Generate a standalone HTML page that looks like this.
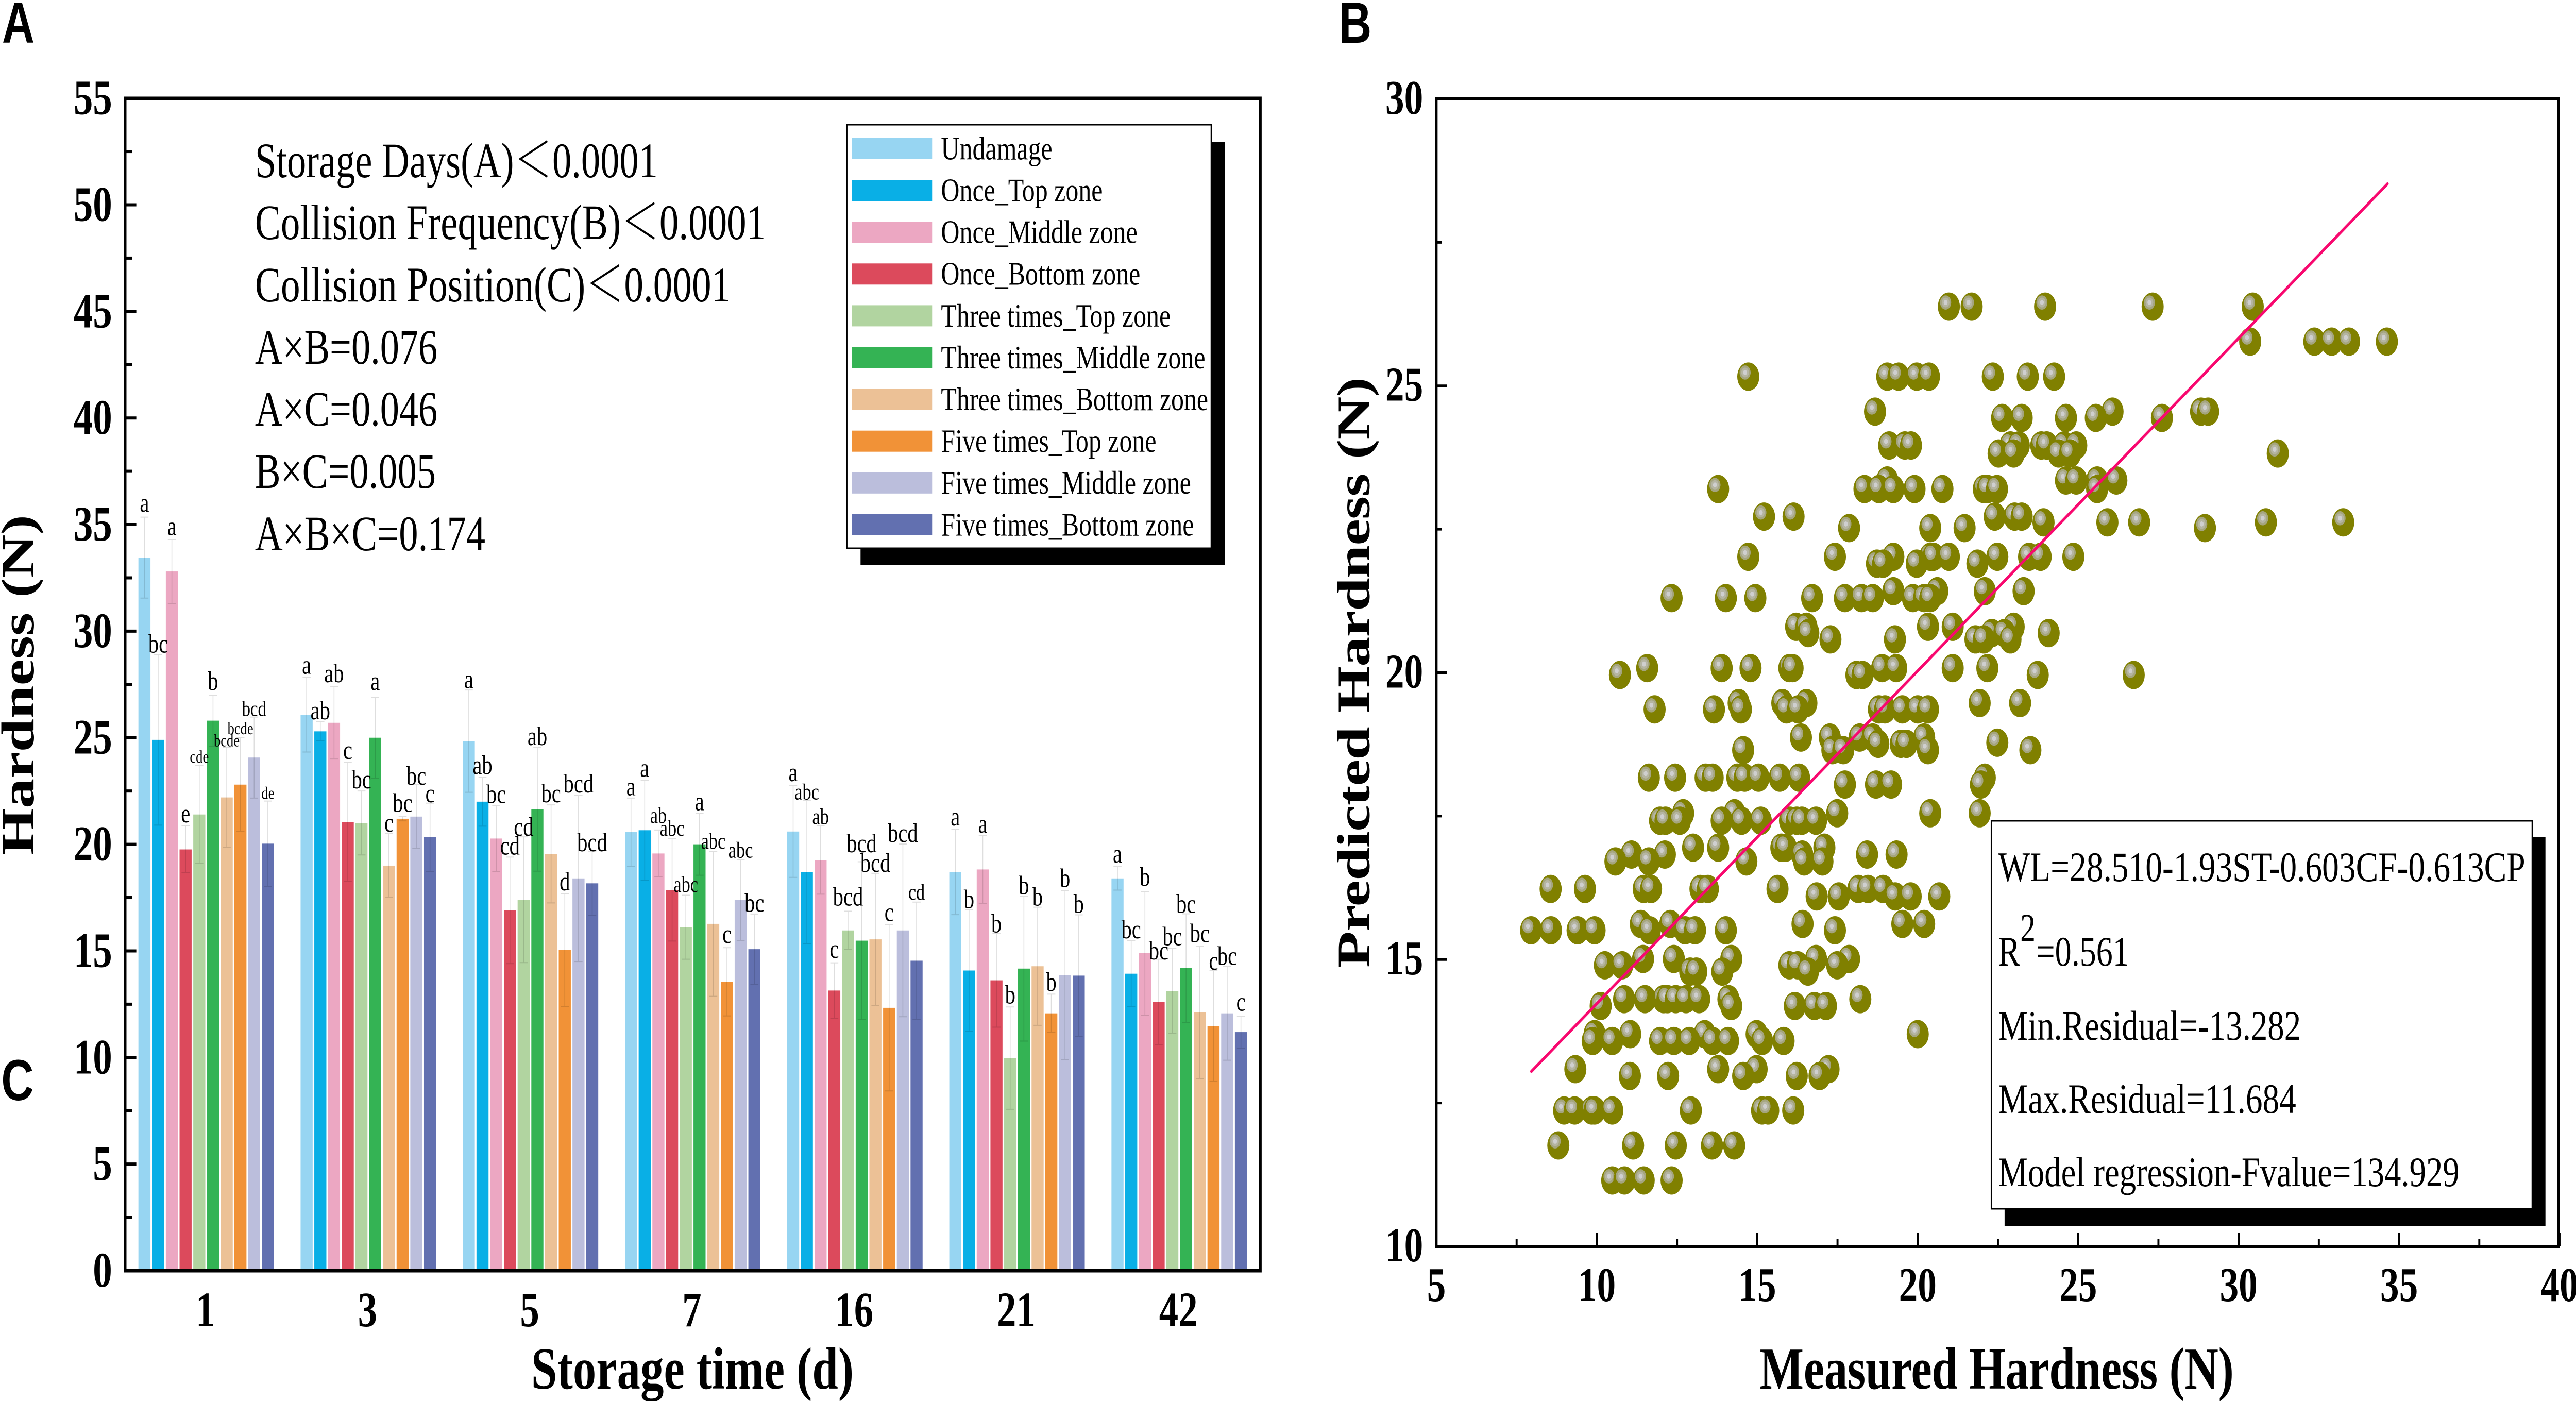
<!DOCTYPE html>
<html lang="en">
<head>
<meta charset="utf-8">
<title>Hardness chart</title>
<style>
html,body{margin:0;padding:0;background:#fff;width:100%;height:100%;overflow:hidden;}
svg{display:block;width:100%;height:100%;}
text{font-family:"Liberation Serif","Noto Serif CJK SC",serif;fill:#000;}
.tick{font-weight:bold;}
.title{font-weight:bold;font-size:116px;}
.panel{font-family:"Liberation Sans",sans-serif;font-weight:bold;font-size:112px;}
.note{font-size:96px;}
.leg{font-size:64px;}
.stat{font-size:82px;}
</style>
</head>
<body>
<svg id="chart" xmlns="http://www.w3.org/2000/svg" viewBox="0 0 6406 2719" preserveAspectRatio="none">
<defs>
<radialGradient id="sphere" cx="0.355" cy="0.355" r="0.2545">
<stop offset="0" stop-color="#CFCFCF"/>
<stop offset="0.33" stop-color="#CFCFCF"/>
<stop offset="0.36" stop-color="#B5B5A2"/>
<stop offset="0.66" stop-color="#B5B5A2"/>
<stop offset="0.69" stop-color="#A5A57E"/>
<stop offset="0.97" stop-color="#A5A57E"/>
<stop offset="1" stop-color="#808000"/>
</radialGradient>
</defs>
<rect x="0" y="0" width="6406" height="2719" fill="#fff"/>

<text class="panel" x="5" y="83">A</text>
<text class="panel" x="3330" y="83">B</text>
<text class="panel" x="3" y="2135">C</text>

<g id="barLayer"></g>
<rect x="311" y="191" width="2823" height="2275" fill="none" stroke="#000" stroke-width="7"/>
<g id="barAxis"></g>

<text class="title" x="1321" y="2695" textLength="802">Storage time (d)</text>
<text class="title" transform="translate(83,1659) rotate(-90)" textLength="660">Hardness (N)</text>

<g>
<text class="note" x="634" y="344" textLength="1002" lengthAdjust="spacingAndGlyphs">Storage Days(A)＜0.0001</text>
<text class="note" x="634" y="464" textLength="1270" lengthAdjust="spacingAndGlyphs">Collision Frequency(B)＜0.0001</text>
<text class="note" x="634" y="585" textLength="1183" lengthAdjust="spacingAndGlyphs">Collision Position(C)＜0.0001</text>
<text class="note" x="634" y="706" textLength="454" lengthAdjust="spacingAndGlyphs">A×B=0.076</text>
<text class="note" x="634" y="826" textLength="454" lengthAdjust="spacingAndGlyphs">A×C=0.046</text>
<text class="note" x="634" y="947" textLength="450" lengthAdjust="spacingAndGlyphs">B×C=0.005</text>
<text class="note" x="634" y="1068" textLength="573" lengthAdjust="spacingAndGlyphs">A×B×C=0.174</text>
</g>

<g id="legend">
<rect x="2140" y="276" width="906" height="821" fill="#000"/>
<rect x="2106" y="242" width="906" height="822" fill="#fff" stroke="#000" stroke-width="3"/>
</g>

<g id="scatterLayer"></g>
<rect x="3572" y="192" width="2790" height="2227" fill="none" stroke="#000" stroke-width="6"/>
<g id="scatterAxis"></g>

<text class="title" x="4376" y="2695" textLength="1179">Measured Hardness (N)</text>
<text class="title" transform="translate(3405,1878) rotate(-90)" textLength="1146">Predicted Hardness (N)</text>

<g>
<rect x="4985" y="1625" width="1345" height="754" fill="#000"/>
<rect x="4952" y="1593" width="1345" height="753" fill="#fff" stroke="#000" stroke-width="3"/>
<text class="stat" x="4969" y="1710" textLength="1311" lengthAdjust="spacingAndGlyphs">WL=28.510-1.93ST-0.603CF-0.613CP</text>
<text class="stat" x="4969" y="1874">R</text>
<text class="stat" x="5024" y="1826" style="font-size:76px">2</text>
<text class="stat" x="5064" y="1874" textLength="231" lengthAdjust="spacingAndGlyphs">=0.561</text>
<text class="stat" x="4969" y="2018" textLength="753" lengthAdjust="spacingAndGlyphs">Min.Residual=-13.282</text>
<text class="stat" x="4969" y="2160" textLength="741" lengthAdjust="spacingAndGlyphs">Max.Residual=11.684</text>
<text class="stat" x="4969" y="2302" textLength="1147" lengthAdjust="spacingAndGlyphs">Model regression-Fvalue=134.929</text>
</g>
</svg>

<script>
// ---------- Bar chart data ----------
const storageDays = ['1', '3', '5', '7', '16', '21', '42'];
const seriesNames = ['Undamage', 'Once_Top zone', 'Once_Middle zone', 'Once_Bottom zone', 'Three times_Top zone', 'Three times_Middle zone', 'Three times_Bottom zone', 'Five times_Top zone', 'Five times_Middle zone', 'Five times_Bottom zone'];
const hardnessDay1 = [33.45, 24.9, 32.8, 19.76, 21.4, 25.8, 22.2, 22.8, 24.07, 20.03];
const hardnessDay3 = [26.08, 25.3, 25.7, 21.05, 21.0, 25.0, 19.0, 21.2, 21.3, 20.33];
const hardnessDay5 = [24.84, 22.0, 20.27, 16.9, 17.4, 21.64, 19.55, 15.04, 18.4, 18.17];
const hardnessDay7 = [20.57, 20.66, 19.57, 17.86, 16.11, 20.0, 16.27, 13.55, 17.38, 15.08];
const hardnessDay16 = [20.6, 18.7, 19.26, 13.14, 15.96, 15.48, 15.54, 12.33, 15.96, 14.54];
const hardnessDay21 = [18.7, 14.08, 18.82, 13.62, 9.97, 14.17, 14.28, 12.07, 13.86, 13.84];
const hardnessDay42 = [18.4, 13.93, 14.89, 12.61, 13.12, 14.19, 12.11, 11.48, 12.07, 11.19];
const errorDay1 = [1.9, 4.0, 1.5, 1.1, 2.3, 1.2, 2.35, 2.2, 1.9, 2.0];
const errorDay3 = [1.75, 0.45, 1.7, 2.8, 1.5, 1.9, 1.5, 0.1, 1.5, 1.6];
const errorDay5 = [2.4, 1.15, 1.55, 2.5, 2.95, 2.9, 2.3, 2.65, 3.9, 1.5];
const errorDay7 = [1.6, 2.35, 1.1, 2.4, 1.5, 1.45, 3.4, 1.6, 1.9, 1.65];
const errorDay16 = [2.15, 3.35, 1.6, 1.3, 0.9, 3.7, 3.1, 3.9, 4.05, 2.75];
const errorDay21 = [2.0, 2.85, 1.6, 2.2, 2.4, 3.4, 2.77, 0.9, 3.96, 2.85];
const errorDay42 = [0.55, 1.55, 2.9, 2.0, 2.0, 2.55, 3.1, 2.6, 2.2, 0.75];
const lettersDay1 = ['a', 'bc', 'a', 'e', 'cde', 'b', 'bcde', 'bcde', 'bcd', 'de'];
const lettersDay3 = ['a', 'ab', 'ab', 'c', 'bc', 'a', 'c', 'bc', 'bc', 'c'];
const lettersDay5 = ['a', 'ab', 'bc', 'cd', 'cd', 'ab', 'bc', 'd', 'bcd', 'bcd'];
const lettersDay7 = ['a', 'a', 'ab', 'abc', 'abc', 'a', 'abc', 'c', 'abc', 'bc'];
const lettersDay16 = ['a', 'abc', 'ab', 'c', 'bcd', 'bcd', 'bcd', 'c', 'bcd', 'cd'];
const lettersDay21 = ['a', 'b', 'a', 'b', 'b', 'b', 'b', 'b', 'b', 'b'];
const lettersDay42 = ['a', 'bc', 'b', 'bc', 'bc', 'bc', 'bc', 'c', 'bc', 'c'];
const letterLevelDay1 = [35.6, 29.0, 34.5, 21.03, 23.83, 27.24, 24.6, 25.16, 26.02, 22.13];
const letterLevelDay3 = [28.0, 25.86, 27.6, 24.0, 22.63, 27.24, 20.6, 21.53, 22.8, 21.97];
const letterLevelDay5 = [27.33, 23.3, 21.93, 19.52, 20.4, 24.66, 21.97, 17.84, 22.43, 19.68];
const letterLevelDay7 = [22.3, 23.17, 21.0, 20.4, 17.77, 21.6, 19.8, 15.37, 19.37, 16.83];
const letterLevelDay16 = [22.96, 22.1, 20.94, 14.67, 17.12, 19.63, 18.71, 16.4, 20.11, 17.4];
const letterLevelDay21 = [20.88, 17.0, 20.55, 15.87, 12.53, 17.66, 17.12, 13.12, 18.0, 16.79];
const letterLevelDay42 = [19.15, 15.59, 18.06, 14.6, 15.26, 16.79, 15.41, 14.12, 14.34, 12.2];
const barYTicks = ['0', '5', '10', '15', '20', '25', '30', '35', '40', '45', '50', '55'];

// ---------- Scatter data: each predicted level pairs with the measured values at that level ----------
const predictedLevels = [26.38, 25.77, 25.16, 24.55, 24.44, 23.96, 23.82, 23.35, 23.2, 22.72, 22.62, 22.52, 22.02, 21.9, 21.42, 21.3, 20.8, 20.69, 20.58, 20.08, 19.96, 19.47, 19.36, 18.87, 18.78, 18.76, 18.65, 18.17, 18.05, 17.55, 17.42, 16.95, 16.83, 16.71, 16.23, 16.1, 15.62, 15.51, 15.01, 14.9, 14.79, 14.31, 14.19, 13.7, 13.58, 13.09, 12.97, 12.37, 11.76, 11.15];
const measuredAtLevel = [
  [20.97, 21.68, 23.97, 27.32, 30.44],
  [30.36, 32.36, 32.9, 33.44, 34.62],
  [14.72, 19.05, 19.4, 19.97, 20.35, 22.34, 23.43, 24.25],
  [18.67, 26.07, 28.83, 29.05],
  [22.63, 23.24, 24.62, 25.55, 27.61],
  [19.11, 19.6, 19.79, 22.89, 23.15, 23.85, 24.02, 24.56, 24.94],
  [22.52, 22.99, 24.39, 24.75, 31.22],
  [19.05, 24.62, 24.94, 25.59, 26.19],
  [13.78, 18.34, 18.79, 19.24, 19.9, 20.77, 22.06, 22.18, 22.47, 25.59],
  [15.21, 16.13, 22.4, 23.02, 23.24],
  [23.92, 25.91, 26.9, 30.85, 33.26],
  [17.86, 20.39, 21.46, 28.95],
  [14.72, 17.42, 19.24, 20.39, 20.49, 20.97, 22.48, 23.47, 23.83, 24.85],
  [18.73, 18.92, 19.97, 21.86],
  [19.24, 20.61, 22.09, 23.3],
  [12.33, 14.02, 14.94, 16.71, 17.73, 18.25, 18.6, 19.85, 20.2, 20.39],
  [16.21, 16.53, 20.32, 21.09, 22.99],
  [16.59, 22.31, 22.7, 24.08],
  [17.28, 19.29, 21.8, 22.06, 22.89],
  [11.57, 13.89, 14.79, 16.0, 16.1, 18.89, 19.33, 21.09, 22.17],
  [10.72, 18.09, 18.28, 23.74, 26.73],
  [14.42, 15.78, 16.53, 21.93, 23.19],
  [11.8, 13.65, 14.49, 15.91, 16.27, 18.79, 18.98, 19.52, 20.0, 20.32],
  [16.36, 17.26, 18.19, 18.6, 20.2],
  [22.48],
  [18.77, 19.47, 19.65],
  [14.56, 17.34, 17.68, 20.32, 23.51],
  [11.62, 12.44, 13.39, 13.61, 14.38, 14.61, 15.04, 15.7, 16.3, 22.09],
  [17.73, 18.7, 19.17, 21.97],
  [12.69, 14.29, 17.49, 20.39, 21.93],
  [11.97, 12.14, 12.59, 13.89, 14.51, 15.11, 16.02, 16.23, 16.39, 16.83],
  [13.0, 13.78, 15.75, 15.89, 17.09],
  [11.08, 12.12, 16.4, 18.42, 19.34],
  [10.58, 11.62, 14.66, 16.46, 17.03],
  [8.56, 9.63, 11.46, 11.69, 13.23, 13.46, 15.63, 18.15, 18.45, 18.92],
  [16.85, 17.54, 19.3, 19.78, 20.67],
  [11.37, 12.29, 16.41, 19.52, 20.2],
  [7.95, 8.57, 9.4, 9.93, 11.65, 12.75, 13.06, 14.02, 17.42],
  [11.44, 12.4, 14.19, 16.83, 17.86],
  [10.25, 10.79, 16.0, 16.26, 17.49],
  [12.91, 13.1, 13.91, 16.58],
  [10.85, 11.5, 12.08, 12.2, 12.46, 12.78, 13.19, 14.1, 18.21],
  [10.12, 14.19, 16.17, 16.78, 17.14],
  [9.93, 11.04, 13.36, 14.98, 20.0],
  [9.87, 10.48, 11.97, 12.4, 12.88, 13.61, 14.09, 15.15, 15.82],
  [9.33, 13.78, 14.98, 17.22],
  [11.03, 12.22, 14.56, 16.23, 16.94],
  [8.98, 9.31, 9.84, 9.93, 10.48, 12.93, 15.15, 15.34, 16.12],
  [8.8, 11.13, 12.46, 13.59, 14.28],
  [10.48, 10.86, 11.46, 12.33]
];
const fitMeasured = [7.96, 34.64];
const fitPredicted = [13.05, 28.52];
const scatterXTicks = ['5', '10', '15', '20', '25', '30', '35', '40'];
const scatterYTicks = ['10', '15', '20', '25', '30'];

// ---------- Rendering ----------
const hardnessByDay = [hardnessDay1, hardnessDay3, hardnessDay5, hardnessDay7, hardnessDay16, hardnessDay21, hardnessDay42];
const errorByDay = [errorDay1, errorDay3, errorDay5, errorDay7, errorDay16, errorDay21, errorDay42];
const lettersByDay = [lettersDay1, lettersDay3, lettersDay5, lettersDay7, lettersDay16, lettersDay21, lettersDay42];
const levelByDay = [letterLevelDay1, letterLevelDay3, letterLevelDay5, letterLevelDay7, letterLevelDay16, letterLevelDay21, letterLevelDay42];

const seriesColor = i => ['#97D5F2', '#09AFE6', '#ECA7C2', '#DC4A5C', '#B1D4A0', '#34B354', '#ECC196', '#F19237', '#BBBEDC', '#6270B0'][i];
const NS = 'http://www.w3.org/2000/svg';
function make(tag, parent, attrs, txt) {
  const el = document.createElementNS(NS, tag);
  for (const k in attrs) el.setAttribute(k, attrs[k]);
  if (txt !== undefined) el.textContent = txt;
  parent.appendChild(el);
  return el;
}
const barY = v => 2466 - v * 41.37;
const groupX = i => 311 + 403.3 * (i + 0.5);
const barPitch = 34.1;
const barWidth = 30;
const barCenter = (g, s) => groupX(g) + (s - 4.5) * barPitch;
const letterSize = (g, s) => {
  const t = lettersByDay[g][s];
  if (g === 0 && (t === 'cde' || t === 'bcde' || t === 'de')) return 34;
  if (g === 0 && t === 'bcd') return 42;
  if (g === 3 && (t === 'ab' || t === 'abc')) return 44;
  if (g === 4 && (t === 'ab' || t === 'abc' || t === 'cd')) return 44;
  return 52;
};

const barLayer = document.getElementById('barLayer');
const barAxis = document.getElementById('barAxis');

hardnessByDay.forEach((vals, g) => {
  vals.forEach((v, s) => {
    const cx = barCenter(g, s);
    const bar = make('rect', barLayer, { x: cx - barWidth / 2, y: barY(v), width: barWidth, height: barY(0) - barY(v), fill: seriesColor(s) });
    
    
  });
});
hardnessByDay.forEach((vals, g) => {
  vals.forEach((v, s) => {
    const cx = barCenter(g, s);
    const e = errorByDay[g][s];
    const up = barY(v + e);
    const dn = barY(v - e);
    const err = make('path', barLayer, { d: `M${cx} ${up}V${dn}M${cx - 10} ${up}H${cx + 10}M${cx - 10} ${dn}H${cx + 10}`, fill: 'none', stroke: 'rgba(0,0,0,0.13)', 'stroke-width': 2 });
    
    
    const lab = make('text', barLayer, { x: cx, y: barY(levelByDay[g][s]), 'text-anchor': 'middle', 'font-size': letterSize(g, s) }, lettersByDay[g][s]);
    
    
  });
});
storageDays.forEach((d, i) => {
  const t = make('text', barAxis, { class: 'tick', x: groupX(i) - 2, y: 2574, 'text-anchor': 'middle', 'font-size': 96 }, d);
  
  
});
barYTicks.forEach((lab, i) => {
  const v = Number(lab);
  const y = barY(v);
  const tk = make('line', barAxis, { x1: 311, x2: 339, y1: y, y2: y, stroke: '#000', 'stroke-width': 6 });
  
  
  const t = make('text', barAxis, { class: 'tick', x: 279, y: y + 31, 'text-anchor': 'end', 'font-size': 96 }, lab);
  
  
  if (i < barYTicks.length - 1) {
    const my = barY(v + 2.5);
    const mn = make('line', barAxis, { x1: 311, x2: 329, y1: my, y2: my, stroke: '#000', 'stroke-width': 6 });
    
    
  }
});

const legend = document.getElementById('legend');
seriesNames.forEach((name, i) => {
  const sw = make('rect', legend, { x: 2119, y: 268 + i * 81.1, width: 199, height: 41, fill: seriesColor(i) });
  
  
  const t = make('text', legend, { class: 'leg', x: 2340, y: 309.4 + i * 81.1 }, name);
  
  
});

// Scatter
const scX = v => 3572 + (v - 5) * 79.8;
const scY = v => 2419 - (v - 10) * 111.35;
const scatterLayer = document.getElementById('scatterLayer');
const scatterAxis = document.getElementById('scatterAxis');
predictedLevels.forEach((p, i) => {
  measuredAtLevel[i].forEach(m => {
    const c = make('circle', scatterLayer, { cx: scX(m), cy: scY(p), r: 27.5, fill: 'url(#sphere)' });
    
    
  });
});
const fit = make('line', scatterLayer, { x1: scX(fitMeasured[0]), y1: scY(fitPredicted[0]), x2: scX(fitMeasured[1]), y2: scY(fitPredicted[1]), stroke: '#F8086F', 'stroke-width': 6, 'stroke-linecap': 'round' });



scatterXTicks.forEach((lab, i) => {
  const v = Number(lab);
  const x = scX(v);
  const tk = make('line', scatterAxis, { x1: x, x2: x, y1: 2419, y2: 2393, stroke: '#000', 'stroke-width': 5 });
  
  
  const t = make('text', scatterAxis, { class: 'tick', x: x, y: 2525, 'text-anchor': 'middle', 'font-size': 94 }, lab);
  
  
  if (i < scatterXTicks.length - 1) {
    const mx = scX(v + 2.5);
    const mn = make('line', scatterAxis, { x1: mx, x2: mx, y1: 2419, y2: 2404, stroke: '#000', 'stroke-width': 5 });
    
    
  }
});
scatterYTicks.forEach((lab, i) => {
  const v = Number(lab);
  const y = scY(v);
  const tk = make('line', scatterAxis, { x1: 3572, x2: 3598, y1: y, y2: y, stroke: '#000', 'stroke-width': 5 });
  
  
  const t = make('text', scatterAxis, { class: 'tick', x: 3539, y: y + 29, 'text-anchor': 'end', 'font-size': 94 }, lab);
  
  
  if (i < scatterYTicks.length - 1) {
    const my = scY(v + 2.5);
    const mn = make('line', scatterAxis, { x1: 3572, x2: 3586, y1: my, y2: my, stroke: '#000', 'stroke-width': 5 });
    
    
  }
});
</script>
</body>
</html>
